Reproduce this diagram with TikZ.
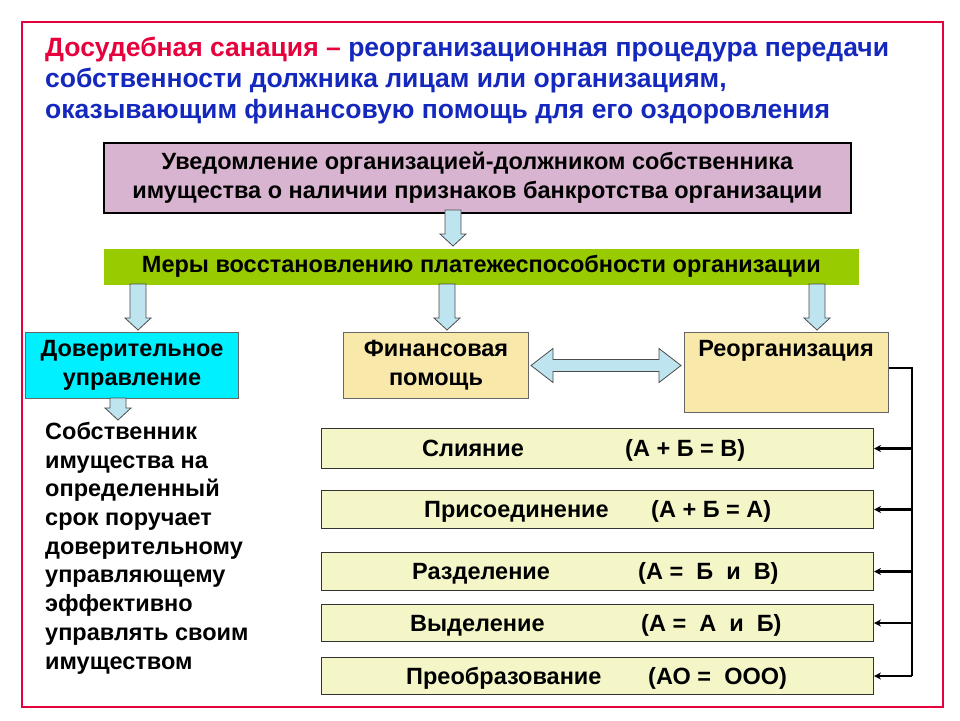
\documentclass[tikz,border=0pt]{standalone}
\usepackage{fontspec}
\setmainfont{Liberation Sans}
\usetikzlibrary{arrows.meta}
\definecolor{tred}{RGB}{230,0,60}
\definecolor{tblue}{RGB}{20,40,190}
\definecolor{pinkf}{RGB}{216,180,208}
\definecolor{greenf}{RGB}{153,204,0}
\definecolor{cyanf}{RGB}{0,240,255}
\definecolor{yelf}{RGB}{248,232,170}
\definecolor{lyf}{RGB}{244,246,200}
\definecolor{arrf}{RGB}{190,228,240}
\newcommand\bdown[3]{\draw[fill=arrf,draw=black!70,line width=0.8pt] (#1-8,#2)--(#1+8,#2)--(#1+8,#3-12)--(#1+13,#3-12)--(#1,#3)--(#1-13,#3-12)--(#1-8,#3-12)--cycle;}
\begin{document}
\begin{tikzpicture}[x=1pt,y=-1pt,
  bx/.style={draw=black,line width=1.6pt,font=\bfseries\fontsize{23.5}{29}\selectfont,align=center,inner sep=0pt},
  rb/.style={draw=black!80,line width=1pt,fill=lyf,anchor=north west,minimum width=552pt,inner sep=0pt},
  rt/.style={font=\bfseries\fontsize{23.5}{29}\selectfont,anchor=base west,inner sep=0pt,yshift=-8pt},
  con/.style={line width=2.2pt,-{Stealth[length=7pt,width=7pt]}}]
\useasboundingbox (0,0) rectangle (960,720);
\fill[white] (0,0) rectangle (960,720);
\draw[tred,line width=2.5pt] (22,22) rectangle (943,707);
\node[anchor=north west,align=left,inner sep=0pt,font=\bfseries\fontsize{26.5}{31}\selectfont,text=tblue] (title) at (45,37)
 {\textcolor{tred}{Досудебная санация –} реорганизационная процедура передачи\\собственности должника лицам или  организациям,\\оказывающим финансовую помощь для его оздоровления};
\node[bx,fill=pinkf,minimum width=747pt,minimum height=70pt,anchor=north west] (b1) at (103,142)
 {Уведомление организацией-должником собственника\\имущества о наличии признаков банкротства организации};
\node[bx,draw=none,fill=greenf,minimum width=755pt,minimum height=36pt,anchor=north west] (b2) at (103,248)
 {Меры восстановлению платежеспособности  организации};
\node[bx,draw=black!60,line width=1pt,fill=cyanf,minimum width=213pt,minimum height=66pt,anchor=north west] (d) at (25,332)
 {Доверительное\\управление};
\node[bx,draw=black!60,line width=1pt,fill=yelf,minimum width=185pt,minimum height=66pt,anchor=north west] (f) at (343,332)
 {Финансовая\\помощь};
\node[draw=black!60,line width=1pt,fill=yelf,minimum width=204pt,minimum height=80pt,anchor=north west] (r) at (684,332) {};
\node[font=\bfseries\fontsize{23.5}{29}\selectfont,anchor=north,inner sep=0pt] (rtx) at (786,340) {Реорганизация};
\bdown{453}{210}{246}
\bdown{138}{284}{330}
\bdown{447}{284}{330}
\bdown{817}{284}{330}
\bdown{118}{398}{420}
\draw[fill=arrf,draw=black!70,line width=0.8pt] (f.east) ++(2,0) -- ++(22,-17) -- ++(0,11) -- ++(106,0) -- ++(0,-11) -- ++(22,17) -- ++(-22,17) -- ++(0,-11) -- ++(-106,0) -- ++(0,11) -- cycle;
\node[anchor=north west,align=left,inner sep=0pt,font=\bfseries\fontsize{23.5}{28.7}\selectfont] (txt) at (45,422)
 {Собственник\\имущества на\\определенный\\срок поручает\\доверительному\\управляющему\\эффективно\\управлять своим\\имуществом};
\node[rb,minimum height=40pt] (s1) at (321,428) {};
\node[rb,minimum height=38pt] (s2) at (321,490) {};
\node[rb,minimum height=38pt] (s3) at (321,552) {};
\node[rb,minimum height=37pt] (s4) at (321,604) {};
\node[rb,minimum height=37pt] (s5) at (321,657) {};
\node[rt] (l1) at (422,0 |- s1.center) {Слияние};
\node[rt] (m1) at (625,0 |- s1.center) {(А + Б = В)};
\node[rt] (l2) at (424,0 |- s2.center) {Присоединение};
\node[rt] (m2) at (651,0 |- s2.center) {(А + Б = А)};
\node[rt] (l3) at (412,0 |- s3.center) {Разделение};
\node[rt] (m3) at (638,0 |- s3.center) {(А =\ \ Б\ \ и\ \ В)};
\node[rt] (l4) at (410,0 |- s4.center) {Выделение};
\node[rt] (m4) at (641,0 |- s4.center) {(А =\ \ А\ \ и\ \ Б)};
\node[rt] (l5) at (406,0 |- s5.center) {Преобразование};
\node[rt] (m5) at (648,0 |- s5.center) {(АО =\ \ ООО)};
\coordinate (c0) at (912,368);
\draw[line width=2.2pt] (r.east |- c0) -- (c0) -- (912,676);
\foreach \s in {s1,s2,s3,s4,s5}{\draw[con] (912,0 |- \s.east) -- (\s.east);}
\end{tikzpicture}
\end{document}
